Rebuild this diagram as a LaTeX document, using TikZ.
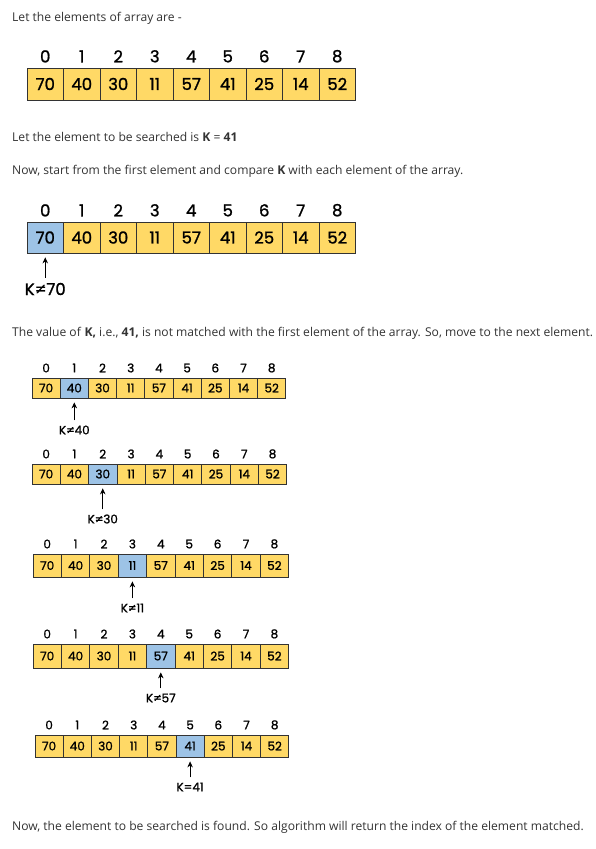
\documentclass[tikz,border=0pt]{standalone}
\usepackage{fontspec}
\setmainfont{Open Sans}
\newfontfamily\numfont[FakeBold=1.2]{Poppins}
\usetikzlibrary{positioning, arrows.meta}
\definecolor{cellyellow}{HTML}{FFD966}
\definecolor{cellblue}{HTML}{9DC3E6}
\definecolor{prose}{HTML}{333333}

\begin{document}
\begin{tikzpicture}
	[x=1pt, y=-1pt,
	 cell/.style={draw=black!80, line width=0.8pt, inner sep=0pt},
	 txt/.style={anchor=west, inner sep=0pt, text=prose, font=\fontsize{12.1}{14}\selectfont},
	 klab/.style={inner sep=0pt},
	 big/.style={font=\numfont\fontsize{16.5}{16.5}\selectfont},
	 small/.style={font=\numfont\fontsize{12}{12}\selectfont},
	 arr/.style={-{Stealth[length=6pt,width=5.5pt]}, line width=0.8pt, shorten >=4pt, shorten <=5pt}]
   \fill[white] (0,0) rectangle (596,849);
   \useasboundingbox (0,0) rectangle (596,849);

   \node[txt] (t1) at (12,18) {Let the elements of array are -};
   \node[txt] (t2) at (12,137) {Let the element to be searched is \textbf{K} = \textbf{41}};
   \node[txt] (t3) at (12,171) {Now, start from the first element and compare \textbf{K} with each element of the array.};
   \node[txt] (t4) at (12,333) {The value of \textbf{K,} i.e., \textbf{41,} is not matched with the first element of the array. So, move to the next element.};
   \node[txt] (t5) at (12,827) {Now, the element to be searched is found. So algorithm will return the index of the element matched.};

   % arrays: number / left / top / cell width / cell height / current cell / font size
   \foreach \a/\x/\y/\w/\h/\hl/\fs in {1/27/68/36.5/32/-1/16.5, 2/27/222/36.5/31/0/16.5,
        3/32/378/28.2/20/1/12, 4/32/464/28.3/20/2/12, 5/33/554/28.4/23/3/12,
        6/33/644/28.4/24/4/12, 7/35/735/28.2/22/5/12}
     \foreach \v [count=\i from 0] in {70,40,30,11,57,41,25,14,52} {
       \ifnum\i=\hl \def\cc{cellblue}\else \def\cc{cellyellow}\fi
       \node[cell, fill=\cc, minimum width=\w pt, minimum height=\h pt,
             font=\numfont\fontsize{\fs}{\fs}\selectfont] (c\a-\i) at ({\x+(\i+0.5)*\w},{\y+\h/2}) {\v};
       \node[inner sep=0pt, font=\numfont\fontsize{\fs}{\fs}\selectfont] (i\a-\i) [above=5pt of c\a-\i] {\i};
     };

   \node[klab, big] (k2) at (c2-0 |- 0,289) {K≠70};
   \node[klab, small] (k3) at (c3-1 |- 0,430) {K≠40};
   \node[klab, small] (k4) at (c4-2 |- 0,519) {K≠30};
   \node[klab, small] (k5) at (c5-3 |- 0,608) {K≠11};
   \node[klab, small] (k6) at (c6-4 |- 0,698) {K≠57};
   \node[klab, small] (k7) at (c7-5 |- 0,787) {K=41};
   \draw[arr] (k2) -- (c2-0);
   \draw[arr] (k3) -- (c3-1);
   \draw[arr] (k4) -- (c4-2);
   \draw[arr] (k5) -- (c5-3);
   \draw[arr] (k6) -- (c6-4);
   \draw[arr] (k7) -- (c7-5);
\end{tikzpicture}
\end{document}
